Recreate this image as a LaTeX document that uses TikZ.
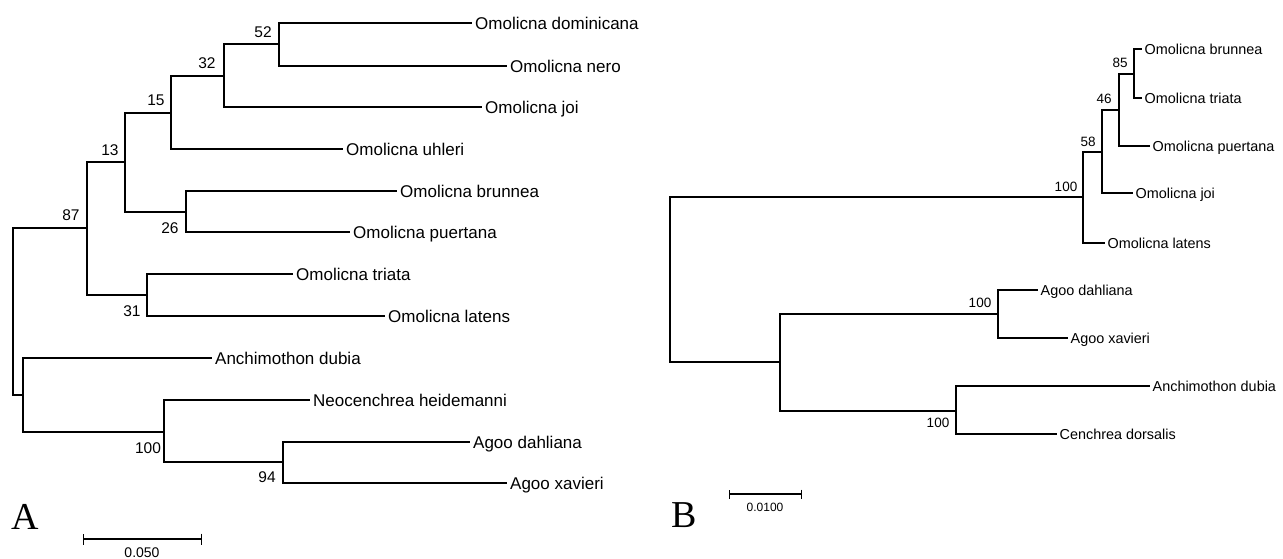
\documentclass[tikz,border=0pt]{standalone}
\usepackage{fontspec}
\setmainfont{Liberation Sans}
\newfontfamily\panelfont{Liberation Serif}
\usetikzlibrary{arrows.meta}
\tikzset{
  br/.style={line width=1.2pt, black},
  leafA/.style={anchor=west, inner xsep=3pt, inner ysep=0pt, text height=12.2pt, text depth=0pt, font=\fontsize{17}{17}\selectfont},
  leafB/.style={anchor=west, inner xsep=2.5pt, inner ysep=0pt, text height=10.3pt, text depth=0pt, font=\fontsize{14.4}{14.4}\selectfont},
  bsA/.style={inner sep=0pt, font=\fontsize{15.5}{15.5}\selectfont},
  bsB/.style={inner sep=0pt, font=\fontsize{13.5}{13.5}\selectfont},
  panel/.style={inner sep=0pt, font=\panelfont\fontsize{38}{38}\selectfont},
  scalelab/.style={inner sep=0pt, font=\fontsize{14}{14}\selectfont},
}
\begin{document}
\begin{tikzpicture}[x=1pt, y=-1pt]
\useasboundingbox[fill=white] (0,0) rectangle (1283,559);

% ---------------- Tree A ----------------
\coordinate (rA) at (13,311);
\coordinate (a87) at (87,228);
\coordinate (a13) at (125,162);
\coordinate (a15) at (171,113);
\coordinate (a32) at (224,76);
\coordinate (a52) at (279,44);
\coordinate (a26) at (186,212);
\coordinate (a31) at (147,295);
\coordinate (aAn) at (23,395);
\coordinate (a100) at (164,432);
\coordinate (a94) at (283,462);

\node[leafA] (Adom) at (472,23) {Omolicna dominicana};
\node[leafA] (Anero) at (507,66) {Omolicna nero};
\node[leafA] (Ajoi) at (482,107) {Omolicna joi};
\node[leafA] (Auhl) at (343,149) {Omolicna uhleri};
\node[leafA] (Abru) at (397,191) {Omolicna brunnea};
\node[leafA] (Apue) at (350,232) {Omolicna puertana};
\node[leafA] (Atri) at (293,274) {Omolicna triata};
\node[leafA] (Alat) at (385,316) {Omolicna latens};
\node[leafA] (Aanc) at (212,358) {Anchimothon dubia};
\node[leafA] (Aneo) at (310,400) {Neocenchrea heidemanni};
\node[leafA] (Adah) at (470,442) {Agoo dahliana};
\node[leafA] (Axav) at (507,483) {Agoo xavieri};

\draw[br] (rA) |- (a87);
\draw[br] (rA) |- (aAn);
\draw[br] (a87) |- (a13);
\draw[br] (a87) |- (a31);
\draw[br] (a13) |- (a15);
\draw[br] (a13) |- (a26);
\draw[br] (a15) |- (a32);
\draw[br] (a15) |- (Auhl.west);
\draw[br] (a32) |- (a52);
\draw[br] (a32) |- (Ajoi.west);
\draw[br] (a52) |- (Adom.west);
\draw[br] (a52) |- (Anero.west);
\draw[br] (a26) |- (Abru.west);
\draw[br] (a26) |- (Apue.west);
\draw[br] (a31) |- (Atri.west);
\draw[br] (a31) |- (Alat.west);
\draw[br] (aAn) |- (Aanc.west);
\draw[br] (aAn) |- (a100);
\draw[br] (a100) |- (Aneo.west);
\draw[br] (a100) |- (a94);
\draw[br] (a94) |- (Adah.west);
\draw[br] (a94) |- (Axav.west);

\node[bsA] (lA52) at (263,32) {52};
\node[bsA] (lA32) at (207,63) {32};
\node[bsA] (lA15) at (156,100) {15};
\node[bsA] (lA13) at (110,150) {13};
\node[bsA] (lA87) at (71,215) {87};
\node[bsA] (lA26) at (170,228) {26};
\node[bsA] (lA31) at (132,311) {31};
\node[bsA] (lA100) at (148,448) {100};
\node[bsA] (lA94) at (267,477) {94};

\node[panel] (pA) at (25,517) {A};
\coordinate (sA1) at (83,539);
\coordinate (sA2) at (202,539);
\draw[line width=1.2pt, {Bar[width=11pt]}-{Bar[width=11pt]}] (sA1) -- (sA2);
\node[scalelab] (sAl) at (142,553) {0.050};

% ---------------- Tree B ----------------
\coordinate (rB) at (670,280);
\coordinate (b100) at (1083,197);
\coordinate (b58) at (1102,152);
\coordinate (b46) at (1119,110);
\coordinate (b85) at (1134,74);
\coordinate (bX) at (780,362);
\coordinate (bAg) at (998,314);
\coordinate (bAC) at (956,411);

\node[leafB] (Bbru) at (1142,49) {Omolicna brunnea};
\node[leafB] (Btri) at (1142,98) {Omolicna triata};
\node[leafB] (Bpue) at (1150,146) {Omolicna puertana};
\node[leafB] (Bjoi) at (1133,193) {Omolicna joi};
\node[leafB] (Blat) at (1105,243) {Omolicna latens};
\node[leafB] (Bdah) at (1038,290) {Agoo dahliana};
\node[leafB] (Bxav) at (1068,338) {Agoo xavieri};
\node[leafB] (Banc) at (1150,386) {Anchimothon dubia};
\node[leafB] (Bcen) at (1057,434) {Cenchrea dorsalis};

\draw[br] (rB) |- (b100);
\draw[br] (rB) |- (bX);
\draw[br] (b100) |- (b58);
\draw[br] (b100) |- (Blat.west);
\draw[br] (b58) |- (b46);
\draw[br] (b58) |- (Bjoi.west);
\draw[br] (b46) |- (b85);
\draw[br] (b46) |- (Bpue.west);
\draw[br] (b85) |- (Bbru.west);
\draw[br] (b85) |- (Btri.west);
\draw[br] (bX) |- (bAg);
\draw[br] (bX) |- (bAC);
\draw[br] (bAg) |- (Bdah.west);
\draw[br] (bAg) |- (Bxav.west);
\draw[br] (bAC) |- (Banc.west);
\draw[br] (bAC) |- (Bcen.west);

\node[bsB] (lB85) at (1120,63) {85};
\node[bsB] (lB46) at (1104,99) {46};
\node[bsB] (lB58) at (1088,142) {58};
\node[bsB] (lB100) at (1066,187) {100};
\node[bsB] (lBag) at (980,303) {100};
\node[bsB] (lBac) at (938,423) {100};

\node[panel] (pB) at (684,515) {B};
\coordinate (sB1) at (729,494);
\coordinate (sB2) at (802,494);
\draw[line width=1.1pt, {Bar[width=9pt]}-{Bar[width=9pt]}] (sB1) -- (sB2);
\node[scalelab, font=\fontsize{12}{12}\selectfont] (sBl) at (765,507) {0.0100};
\end{tikzpicture}
\end{document}
